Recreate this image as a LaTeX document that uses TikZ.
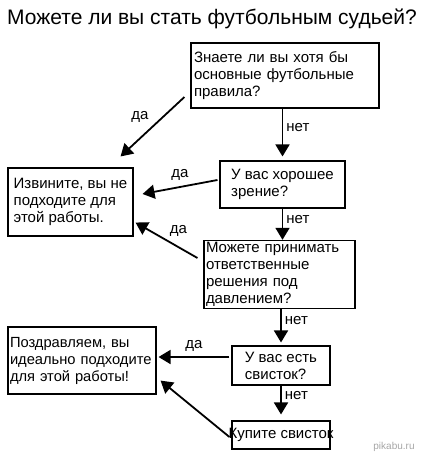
\documentclass[tikz,border=0pt]{standalone}
\usepackage{fontspec}
\setmainfont{Liberation Sans}
\usetikzlibrary{arrows.meta,positioning}

\begin{document}
\begin{tikzpicture}[x=1pt, y=-1pt,
        qbox/.style = {draw, line width=1.1pt, align=left, inner sep=2pt, font=\fontsize{15}{17}\selectfont},
        arrow/.style = {line width=1.8pt, -{Triangle[length=12pt,width=14pt]}},
        answer/.style = {font=\fontsize{15}{17}\selectfont, inner sep=1pt}
        ]
        \useasboundingbox (0,0) rectangle (422,457);

        \node[font=\fontsize{21}{24}\selectfont] (title) at (212,19) {Можете ли вы стать футбольным судьей?};

        % questions
        \node[qbox, minimum height=65pt, text width=182pt, inner xsep=3pt] (rules) at (285,75.5)
            {Знаете ли вы хотя бы\\основные футбольные\\правила?};
        \node[qbox, minimum width=125pt, minimum height=47pt] (sight) at (282.5,184.5)
            {У вас хорошее\\зрение?};
        \node[qbox, minimum height=63pt, text width=147pt, inner xsep=2pt] (press) at (279.5,274.5)
            {Можете принимать\\ответственные\\решения под\\давлением?};
        \node[qbox, minimum width=98pt, minimum height=39pt] (whistle) at (281,365.5)
            {У вас есть\\свисток?};
        \node[qbox, minimum width=98pt, minimum height=28pt, inner xsep=0pt] (buy) at (281,435)
            {\makebox[90pt]{Купите свисток}};

        % answers
        \node[qbox, minimum width=125pt, minimum height=68pt] (sorry) at (70.5,202)
            {Извините, вы не\\подходите для\\этой работы.};
        \node[qbox, minimum height=67pt, text width=144pt, inner xsep=2pt, font=\fontsize{14.7}{17}\selectfont] (hired) at (82,360.5)
            {Поздравляем, вы\\идеально подходите\\для этой работы!};

        \draw[arrow, shorten >=4pt] (sight.north |- rules.south) -- node[answer, pos=0.36, right=2pt] {нет} (sight.north);
        \draw[arrow] (sight.south) -- node[answer, pos=0.34, right=2pt] {нет} (sight.south |- press.north);
        \draw[arrow, shorten >=3pt] (whistle.north |- press.south) -- node[answer, pos=0.3, right=2pt] {нет} (whistle.north);
        \draw[arrow, shorten >=6pt] (whistle.south) -- node[answer, pos=0.28, right=2pt] {нет} (buy.north);

        \draw[arrow] ([shift={(-6,21.5)}]rules.west) -- node[answer, midway, above left=3pt] {да} ([shift={(-13,-11)}]sorry.north east);
        \draw[arrow] ([shift={(-2,-4.5)}]sight.west) -- node[answer, midway, above=5pt] {да} ([shift={(9,-8)}]sorry.east);
        \draw[arrow] ([shift={(-6,-16.5)}]press.west) -- node[answer, midway, above right=2pt] {да} ([shift={(2,-14)}]sorry.south east);
        \draw[arrow] ([shift={(-2,-8.5)}]whistle.west) -- node[answer, midway, above=4pt] {да} ([shift={(2,-3.5)}]hired.east);
        \draw[arrow] ([shift={(-2,2)}]buy.west) -- ([shift={(4,-14)}]hired.south east);

        \node[text=black!35, font=\fontsize{10}{12}\selectfont] (mark) at (394,447) {pikabu.ru};
    \end{tikzpicture}
\end{document}
